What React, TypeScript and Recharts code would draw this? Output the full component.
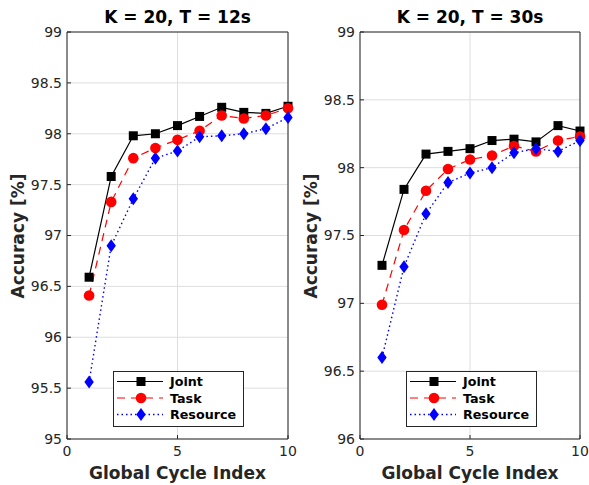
import React from "react";
import { LineChart, Line, XAxis, YAxis, CartesianGrid, ReferenceArea, Label } from "recharts";

const cycles = [1, 2, 3, 4, 5, 6, 7, 8, 9, 10];
const jointT12 = [96.59, 97.58, 97.98, 98.0, 98.08, 98.17, 98.26, 98.21, 98.2, 98.27];
const taskT12 = [96.41, 97.33, 97.76, 97.86, 97.94, 98.03, 98.18, 98.15, 98.18, 98.25];
const resourceT12 = [95.56, 96.9, 97.36, 97.76, 97.83, 97.97, 97.98, 98.0, 98.05, 98.16];
const jointT30 = [97.28, 97.84, 98.1, 98.12, 98.14, 98.2, 98.21, 98.19, 98.31, 98.27];
const taskT30 = [96.99, 97.54, 97.83, 97.99, 98.06, 98.09, 98.16, 98.12, 98.2, 98.23];
const resourceT30 = [96.6, 97.27, 97.66, 97.89, 97.96, 98.0, 98.11, 98.14, 98.12, 98.2];

const xTicks = [0, 5, 10];
const yTicksT12 = [95, 95.5, 96, 96.5, 97, 97.5, 98, 98.5, 99];
const yTicksT30 = [96, 96.5, 97, 97.5, 98, 98.5, 99];

const FONT = "DejaVu Sans, sans-serif";
const AXIS = "#262626";

const Square = ({ cx, cy, color }: any) => (
  <rect x={cx - 4.5} y={cy - 4.5} width={9} height={9} fill={color} />
);
const Circle = ({ cx, cy, color }: any) => <circle cx={cx} cy={cy} r={5.3} fill={color} />;
const Diamond = ({ cx, cy, color }: any) => (
  <polygon points={`${cx},${cy - 6.5} ${cx + 4.7},${cy} ${cx},${cy + 6.5} ${cx - 4.7},${cy}`} fill={color} />
);

const series = [
  { key: "joint", name: "Joint", color: "#000000", dash: undefined, width: 1.2, Marker: Square },
  { key: "task", name: "Task", color: "#ff0000", dash: "8 6", width: 1.2, Marker: Circle },
  { key: "resource", name: "Resource", color: "#0000ff", dash: "1.5 3", width: 1.4, Marker: Diamond },
];

function LegendBox({ left, top }: { left: number; top: number }) {
  return (
    <svg width={132} height={57} style={{ position: "absolute", left, top, overflow: "visible" }}>
      <rect x={0.5} y={0.5} width={130} height={55} fill="#fff" stroke={AXIS} strokeWidth={1} />
      {series.map((s, i) => {
        const y = 10.5 + i * 16.5;
        const M = s.Marker;
        return (
          <g key={s.key}>
            <line x1={4} x2={50} y1={y} y2={y} stroke={s.color} strokeWidth={s.width} strokeDasharray={s.dash} />
            <M cx={28} cy={y} color={s.color} />
            <text x={57} y={y} dominantBaseline="central" fontFamily={FONT} fontWeight="bold" fontSize={12.7} fill="#000">
              {s.name}
            </text>
          </g>
        );
      })}
    </svg>
  );
}

function Panel({
  left,
  width,
  rightMargin,
  title,
  joint,
  task,
  resource,
  yTicks,
}: {
  left: number;
  width: number;
  rightMargin: number;
  title: string;
  joint: number[];
  task: number[];
  resource: number[];
  yTicks: number[];
}) {
  const data = cycles.map((c, i) => ({ cycle: c, joint: joint[i], task: task[i], resource: resource[i] }));
  const yMin = yTicks[0];
  const yMax = yTicks[yTicks.length - 1];
  const plotLeft = 67;
  const plotRight = width - rightMargin;
  const tickStyle = { fill: AXIS, fontSize: 14, fontFamily: FONT };
  return (
    <div style={{ position: "absolute", left, top: 0, width, height: 485 }}>
      <div
        style={{
          position: "absolute",
          left: plotLeft - 20,
          width: plotRight - plotLeft + 40,
          top: 7,
          textAlign: "center",
          fontFamily: FONT,
          fontWeight: "bold",
          fontSize: 17,
          lineHeight: "normal",
          color: "#000",
          whiteSpace: "nowrap",
        }}
      >
        {title}
      </div>
      <LineChart width={width} height={485} data={data} margin={{ top: 32, right: rightMargin, bottom: 0, left: 0 }}>
        <CartesianGrid stroke="#dedede" strokeWidth={1} />
        <XAxis
          dataKey="cycle"
          type="number"
          domain={[0, 10]}
          ticks={xTicks}
          height={46}
          tickSize={-4}
          tickMargin={11}
          axisLine={false}
          tickLine={{ stroke: AXIS }}
          tick={tickStyle}
        >
          <Label
            value="Global Cycle Index"
            position="insideBottom"
            offset={6}
            style={{ fill: AXIS, fontSize: 17, fontWeight: "bold", fontFamily: FONT }}
          />
        </XAxis>
        <XAxis
          xAxisId="top"
          orientation="top"
          type="number"
          domain={[0, 10]}
          ticks={xTicks}
          height={0}
          tickSize={-4}
          axisLine={false}
          tickLine={{ stroke: AXIS }}
          tickFormatter={() => ""}
        />
        <YAxis
          type="number"
          domain={[yMin, yMax]}
          ticks={yTicks}
          width={67}
          tickSize={-4}
          tickMargin={9}
          axisLine={false}
          tickLine={{ stroke: AXIS }}
          tick={tickStyle}
        >
          <Label
            content={() => (
              <text
                x={18}
                y={236}
                transform="rotate(-90 18 236)"
                textAnchor="middle"
                dominantBaseline="central"
                fontFamily={FONT}
                fontWeight="bold"
                fontSize={17}
                fill={AXIS}
              >
                Accuracy [%]
              </text>
            )}
          />
        </YAxis>
        <YAxis
          yAxisId="right"
          orientation="right"
          type="number"
          domain={[yMin, yMax]}
          ticks={yTicks}
          width={0}
          tickSize={-4}
          axisLine={false}
          tickLine={{ stroke: AXIS }}
          tickFormatter={() => ""}
        />
        <ReferenceArea x1={0} x2={10} y1={yMin} y2={yMax} fill="none" stroke={AXIS} strokeWidth={1} />
        {series.map((s) => {
          const M = s.Marker;
          return (
            <Line
              key={s.key}
              dataKey={s.key}
              stroke={s.color}
              strokeWidth={s.width}
              strokeDasharray={s.dash}
              isAnimationActive={false}
              dot={(p: any) => <M key={`${s.key}-${p.index}`} cx={p.cx} cy={p.cy} color={s.color} />}
              activeDot={false}
            />
          );
        })}
      </LineChart>
      <LegendBox left={113} top={371} />
    </div>
  );
}

export default function App() {
  return (
    <div style={{ position: "absolute", left: 0, top: 0, width: 589, height: 485, background: "#fff", overflow: "hidden" }}>
      <Panel left={0} width={300} rightMargin={12} title="K = 20, T = 12s" joint={jointT12} task={taskT12} resource={resourceT12} yTicks={yTicksT12} />
      <Panel left={293} width={296} rightMargin={9} title="K = 20, T = 30s" joint={jointT30} task={taskT30} resource={resourceT30} yTicks={yTicksT30} />
    </div>
  );
}
